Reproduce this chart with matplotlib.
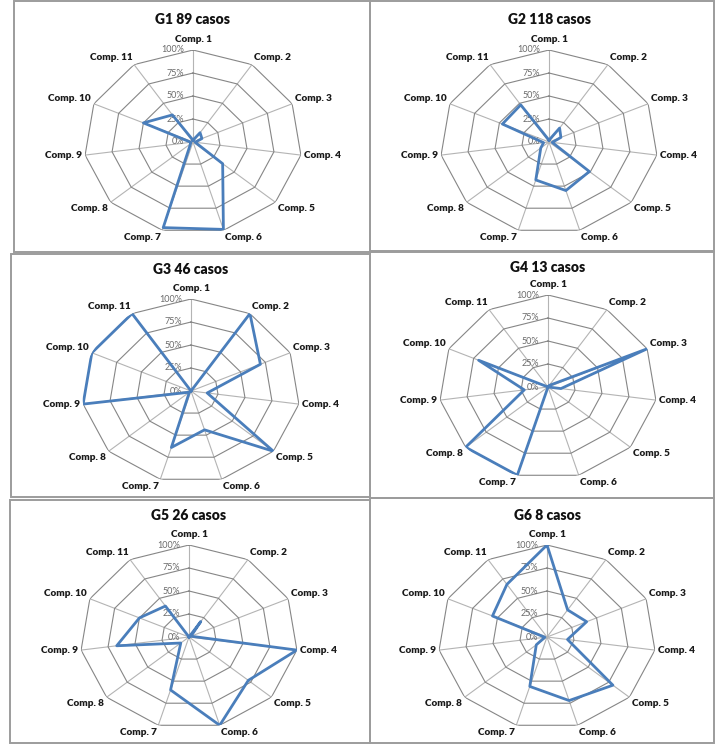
import numpy as np
import matplotlib
matplotlib.use('Agg')
from matplotlib import pyplot as plt
from matplotlib.patches import Rectangle

plt.rcParams['font.family'] = ['Lato', 'DejaVu Sans']

comps = ['Comp. %d' % i for i in range(1, 12)]
ring_levels = [0, 0.25, 0.5, 0.75, 1.0]
ring_labels = ['0%', '25%', '50%', '75%', '100%']

titles = ['G1 89 casos', 'G2 118 casos', 'G3 46 casos',
          'G4 13 casos', 'G5 26 casos', 'G6 8 casos']

g1 = [0.02, 0.12, 0.09, 0.02, 0.36, 0.99, 0.97, 0.03, 0.02, 0.50, 0.35]
g2 = [0.02, 0.18, 0.12, 0.03, 0.49, 0.55, 0.43, 0.10, 0.05, 0.47, 0.48]
g3 = [0.00, 1.00, 0.70, 0.15, 1.00, 0.44, 0.64, 0.02, 1.00, 1.00, 1.00]
g4 = [0.00, 0.02, 1.00, 0.12, 0.00, 0.00, 1.00, 1.00, 0.22, 0.70, 0.00]
g5 = [0.00, 0.20, 0.02, 1.00, 0.72, 1.00, 0.60, 0.10, 0.67, 0.50, 0.40]
g6 = [1.00, 0.35, 0.40, 0.19, 0.80, 0.72, 0.56, 0.13, 0.02, 0.55, 0.68]
groups = [g1, g2, g3, g4, g5, g6]

W, H = 715, 744
fig = plt.figure(figsize=(W / 100, H / 100), dpi=100)

# panel frames (pixels: x0, y0, x1, y1)
frames = [(14, 1, 370, 252), (370, 1, 714, 251),
          (11, 254, 370, 497), (370, 252, 714, 498),
          (10, 500, 370, 743), (370, 498, 714, 743)]
for x0, y0, x1, y1 in frames:
    fig.add_artist(Rectangle((x0 / W, 1 - y1 / H), (x1 - x0) / W, (y1 - y0) / H,
                             transform=fig.transFigure, fill=False,
                             edgecolor='#9c9c9c', lw=1.4))

# centres of each radar and title heights (pixels)
centres = [(193, 142), (549, 142), (191, 391), (548, 387), (189, 637), (547, 637)]
title_y = [20, 20, 270, 267, 516, 515]
rx, ry = 109, 92

theta = np.arange(len(comps)) * 2 * np.pi / len(comps)
theta_c = np.append(theta, theta[0])

for i, vals in enumerate(groups):
    cx, cy = centres[i]
    ax = fig.add_axes([(cx - rx) / W, 1 - (cy + ry) / H, 2 * rx / W, 2 * ry / H],
                      projection='polar')
    ax.set_aspect('auto')
    ax.set_theta_zero_location('N')
    ax.set_theta_direction(-1)
    ax.set_ylim(0, 1)
    ax.grid(False)
    ax.set_xticks([])
    ax.set_yticks([])
    ax.spines['polar'].set_visible(False)
    ax.patch.set_alpha(0)

    for t in theta:
        ax.plot([t, t], [0, 1], color='#b4b4b4', lw=0.8, zorder=1)
    for lv in ring_levels[1:]:
        ax.plot(theta_c, [lv] * len(theta_c), color='#868686', lw=0.8, zorder=2)

    for lv, lab in zip(ring_levels, ring_labels):
        ax.annotate(lab, (0, lv), xytext=(-9, 0), textcoords='offset pixels',
                    ha='right', va='center', fontsize=6.5, color='#6a6a6a',
                    annotation_clip=False, zorder=3)

    for t, name in zip(theta, comps):
        s, c = np.sin(t), np.cos(t)
        ha = 'center' if abs(s) < 0.1 else ('left' if s > 0 else 'right')
        va = 'bottom' if c > 0.3 else ('top' if c < -0.3 else 'center')
        r = 1.06 if abs(s) < 0.1 else 1.03
        ax.text(t, r, name, ha=ha, va=va, fontsize=7.2, fontweight='heavy',
                color='#1a1a1a')

    v = np.append(vals, vals[0])
    ax.plot(theta_c, v, color='#4a7ebb', lw=2.0, zorder=5)

    fig.text(cx / W, 1 - title_y[i] / H, titles[i], ha='center', va='center',
             fontsize=10, fontweight='heavy', color='#111111')

fig.savefig('out.png', dpi=100)
